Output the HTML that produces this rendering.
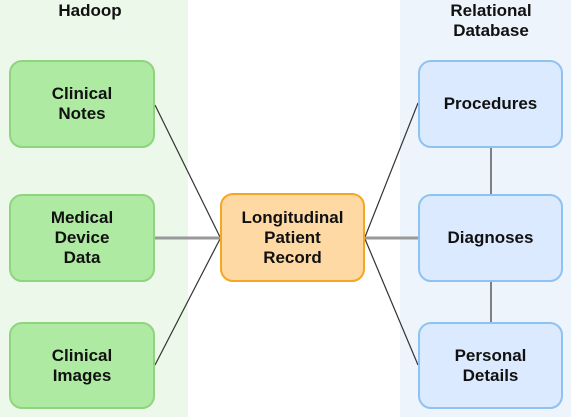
<!DOCTYPE html>
<html><head><style>
body{margin:0;width:571px;height:417px;overflow:hidden;background:#fff;font-family:"Liberation Sans",Arial,sans-serif;position:relative}
.p{position:absolute;top:0;height:417px}
.b{position:absolute;box-sizing:border-box;border-radius:13px;display:flex;align-items:center;justify-content:center;text-align:center;font-weight:bold;font-size:17px;line-height:20px;color:#111}
.g{background:#aeeaa2;border:2px solid #8fd47f;left:9px;width:146px}
.r{background:#dceaff;border:2px solid #8ec2f2;left:418px;width:145px}
.h{position:absolute;font-weight:bold;font-size:17px;line-height:20px;color:#111;text-align:center}
</style></head><body>
<div class="p" style="left:0;width:188px;background:#ecf8ea"></div>
<div class="p" style="left:400px;width:171px;background:#eef4fc"></div>
<svg style="position:absolute;left:0;top:0" width="571" height="417">
<g stroke="#333" stroke-width="1.2" fill="none">
<line x1="155" y1="105" x2="220" y2="237"/>
<line x1="155" y1="365" x2="220" y2="239"/>
<line x1="365" y1="237" x2="418" y2="103"/>
<line x1="365" y1="239" x2="418" y2="365"/>
<line x1="491" y1="148" x2="491" y2="194"/>
<line x1="491" y1="282" x2="491" y2="322"/>
</g>
<g stroke="#999" stroke-width="3">
<line x1="155" y1="238" x2="220" y2="238"/>
<line x1="365" y1="238" x2="418" y2="238"/>
</g>
</svg>
<div class="h" style="left:0;width:180px;top:1px">Hadoop</div>
<div class="h" style="left:411px;width:160px;top:1px">Relational<br>Database</div>
<div class="b g" style="top:60px;height:88px">Clinical<br>Notes</div>
<div class="b g" style="top:194px;height:88px">Medical<br>Device<br>Data</div>
<div class="b g" style="top:322px;height:87px">Clinical<br>Images</div>
<div class="b" style="left:220px;width:145px;top:193px;height:89px;background:#ffd9a3;border:2px solid #f5a623">Longitudinal<br>Patient<br>Record</div>
<div class="b r" style="top:60px;height:88px">Procedures</div>
<div class="b r" style="top:194px;height:88px">Diagnoses</div>
<div class="b r" style="top:322px;height:87px">Personal<br>Details</div>
</body></html>
